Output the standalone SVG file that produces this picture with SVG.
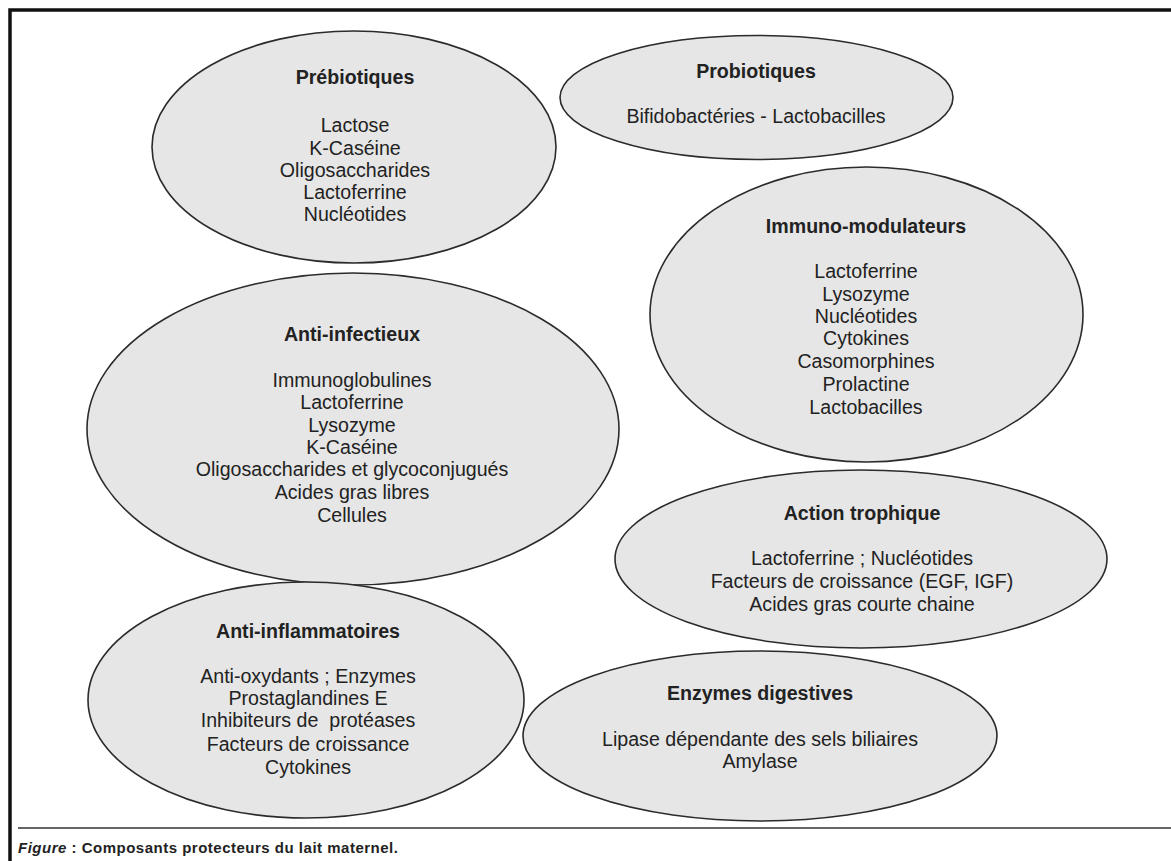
<svg xmlns="http://www.w3.org/2000/svg" width="1171" height="861" viewBox="0 0 1171 861">
<style>
.bg{fill:#ffffff}
.node ellipse{fill:#e6e6e6;stroke:#2b2b2b;stroke-width:1.6}
.node text{font-family:"Liberation Sans",Arial,sans-serif;font-size:19.6px;fill:#222;text-anchor:middle}
.node text.t{font-weight:bold}
.frame{stroke:#111;stroke-width:3.5;fill:none}
.sep{stroke:#666;stroke-width:2}
.cap{font-family:"Liberation Sans",Arial,sans-serif;font-size:15px;font-weight:bold;fill:#222;letter-spacing:0.5px}
</style>
<rect class="bg" x="0" y="0" width="1171" height="861"/>
<path class="frame" d="M10 861 V10 H1171"/>
<line class="sep" x1="18" y1="828" x2="1171" y2="828"/>
<text class="cap" x="18" y="853"><tspan font-style="italic">Figure</tspan> : Composants protecteurs du lait maternel.</text>

<g id="prebiotiques" class="node">
<ellipse cx="354" cy="147" rx="202" ry="116"/>
<text class="t" x="355" y="84">Prébiotiques</text>
<text x="355" y="132">Lactose</text>
<text x="355" y="155">K-Caséine</text>
<text x="355" y="177">Oligosaccharides</text>
<text x="355" y="199">Lactoferrine</text>
<text x="355" y="221">Nucléotides</text>
</g>

<g id="probiotiques" class="node">
<ellipse cx="756.5" cy="97.5" rx="196.5" ry="62"/>
<text class="t" x="756" y="78">Probiotiques</text>
<text x="756" y="123">Bifidobactéries - Lactobacilles</text>
</g>

<g id="immuno" class="node">
<ellipse cx="866.5" cy="314.5" rx="216.5" ry="147.5"/>
<text class="t" x="866" y="233">Immuno-modulateurs</text>
<text x="866" y="278">Lactoferrine</text>
<text x="866" y="301">Lysozyme</text>
<text x="866" y="323">Nucléotides</text>
<text x="866" y="345">Cytokines</text>
<text x="866" y="368">Casomorphines</text>
<text x="866" y="391">Prolactine</text>
<text x="866" y="414">Lactobacilles</text>
</g>

<g id="anti-infectieux" class="node">
<ellipse cx="353" cy="429" rx="266" ry="156"/>
<text class="t" x="352" y="341">Anti-infectieux</text>
<text x="352" y="387">Immunoglobulines</text>
<text x="352" y="409">Lactoferrine</text>
<text x="352" y="432">Lysozyme</text>
<text x="352" y="454">K-Caséine</text>
<text x="352" y="476">Oligosaccharides et glycoconjugués</text>
<text x="352" y="499">Acides gras libres</text>
<text x="352" y="522">Cellules</text>
</g>

<g id="action-trophique" class="node">
<ellipse cx="861" cy="559" rx="246" ry="89"/>
<text class="t" x="862" y="520">Action trophique</text>
<text x="862" y="565">Lactoferrine ; Nucléotides</text>
<text x="862" y="588">Facteurs de croissance (EGF, IGF)</text>
<text x="862" y="611">Acides gras courte chaine</text>
</g>

<g id="anti-inflammatoires" class="node">
<ellipse cx="306" cy="700" rx="218" ry="118"/>
<text class="t" x="308" y="638">Anti-inflammatoires</text>
<text x="308" y="683">Anti-oxydants ; Enzymes</text>
<text x="308" y="705">Prostaglandines E</text>
<text x="308" y="727" xml:space="preserve">Inhibiteurs de  protéases</text>
<text x="308" y="751">Facteurs de croissance</text>
<text x="308" y="774">Cytokines</text>
</g>

<g id="enzymes" class="node">
<ellipse cx="760" cy="736" rx="237" ry="85"/>
<text class="t" x="760" y="700">Enzymes digestives</text>
<text x="760" y="746">Lipase dépendante des sels biliaires</text>
<text x="760" y="768">Amylase</text>
</g>

<g id="connectors"></g>
</svg>
